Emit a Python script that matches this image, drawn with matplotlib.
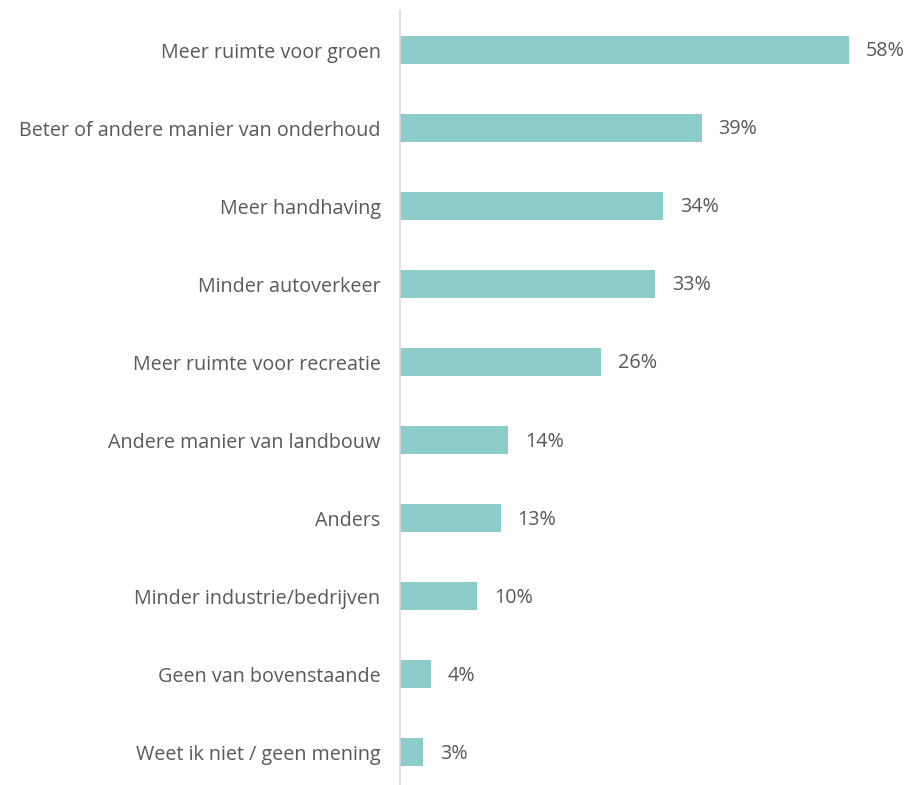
import matplotlib.pyplot as plt

categories = [
    "Meer ruimte voor groen",
    "Beter of andere manier van onderhoud",
    "Meer handhaving",
    "Minder autoverkeer",
    "Meer ruimte voor recreatie",
    "Andere manier van landbouw",
    "Anders",
    "Minder industrie/bedrijven",
    "Geen van bovenstaande",
    "Weet ik niet / geen mening",
]
values = [58, 39, 34, 33, 26, 14, 13, 10, 4, 3]

plt.rcParams["font.family"] = ["Open Sans", "DejaVu Sans"]

fig = plt.figure(figsize=(9.08, 7.85), dpi=100)
ax = fig.add_axes([400 / 908, 0, 480 / 908, 1 - 11 / 785])

y = list(range(len(categories)))
ax.barh(y, values, height=0.36, color="#8ccdc9")

for yi, v in zip(y, values):
    ax.annotate(f"{v}%", (v, yi), xytext=(12, -1), textcoords="offset points",
                va="center", ha="left", fontsize=14.2, color="#595959")

ax.set_xlim(0, 62)
ax.set_ylim(9.42, -0.5)
ax.set_yticks(y)
ax.set_yticklabels(categories, fontsize=14.2, color="#595959")
ax.tick_params(axis="y", length=0, pad=14)
ax.set_xticks([])

for side in ["top", "right", "bottom"]:
    ax.spines[side].set_visible(False)
ax.spines["left"].set_color("#d9d9d9")
ax.spines["left"].set_linewidth(1.2)

fig.savefig("out.png", dpi=100)
